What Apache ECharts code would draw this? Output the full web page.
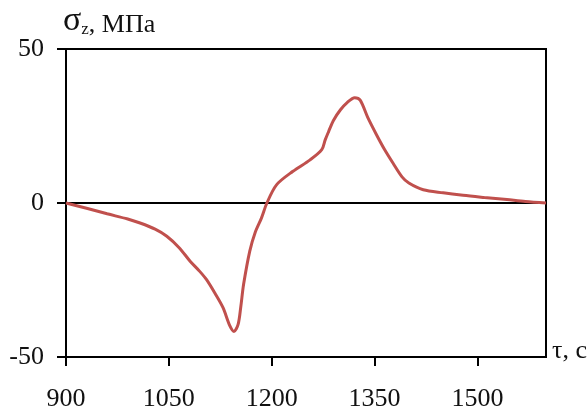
<!DOCTYPE html>
<html><head><meta charset="utf-8">
<script src="https://cdn.jsdelivr.net/npm/echarts@6/dist/echarts.min.js"></script>
<style>html,body{margin:0;padding:0;background:#fff}#c{width:588px;height:412px}</style>
</head><body><div id="c"></div>
<script>
const timeValues = [900,930,960,990,1008,1030,1047,1065,1081,1095,1105,1118,1129,1139,1145,1151,1155,1159,1168,1176,1185,1193,1207,1231,1256,1273,1278,1283,1290,1300,1310,1321,1329,1340,1353,1365,1377,1390,1400,1421,1450,1479,1510,1543,1570,1600];
const stressValues = [0,-1.7,-3.5,-5.2,-6.5,-8.5,-10.8,-14.5,-18.9,-22.2,-24.9,-29.6,-34,-39.9,-41.7,-39.4,-33.5,-26.4,-15.6,-9.5,-4.9,0,5.9,10.3,14,17.3,20.5,23.2,26.8,30.2,32.6,34.2,33.4,27.8,22.1,17.2,12.9,8.5,6.5,4.3,3.3,2.5,1.8,1.1,0.5,0];
const xTicks = [900,1050,1200,1350,1500];
const yTicks = [-50,0,50];
const yTitle = 'σ';
const yTitleSub = 'z';
const yTitleRest = ', МПа';
const xTitle = 'τ, с';

const chart = echarts.init(document.getElementById('c'), null, {renderer:'canvas'});
const font = '"Liberation Serif", "Times New Roman", serif';
chart.setOption({
  animation:false,
  backgroundColor:'#fff',
  grid:{left:66,right:42,top:49,bottom:53,show:true,borderColor:'#000',borderWidth:2},
  xAxis:{type:'value',min:900,max:1600,interval:150,
    axisLine:{show:true,onZero:false,lineStyle:{color:'#000',width:2}},
    axisTick:{show:true,length:9,lineStyle:{color:'#000',width:2},customValues:xTicks},
    axisLabel:{margin:29,fontFamily:font,fontSize:26,color:'#111',customValues:xTicks,formatter:v=>String(v)},
    splitLine:{show:false}},
  yAxis:{type:'value',min:-50,max:50,interval:50,
    axisLine:{show:true,onZero:false,lineStyle:{color:'#000',width:2}},
    axisTick:{show:true,length:9,lineStyle:{color:'#000',width:2},customValues:yTicks},
    axisLabel:{margin:22,fontFamily:font,fontSize:26,color:'#111',customValues:yTicks,formatter:v=>String(v)},
    splitLine:{show:true,lineStyle:{color:'#000',width:2}}},
  graphic:[
    {type:'text',left:63,top:4,style:{
      text:'{g|'+yTitle+'}{sub|'+yTitleSub+'}{s|'+yTitleRest+'}',
      rich:{g:{fontFamily:font,fontSize:34,fill:'#111',verticalAlign:'bottom'},
            s:{fontFamily:font,fontSize:26,fill:'#111',verticalAlign:'bottom'},
            sub:{fontFamily:font,fontSize:17,fill:'#111',padding:[12,0,0,0],verticalAlign:'bottom'}}}},
    {type:'text',left:552,top:338,style:{text:xTitle,fontFamily:font,fontSize:26,fill:'#111'}}
  ],
  series:[{type:'line',data:timeValues.map((t,i)=>[t,stressValues[i]]),
    showSymbol:false,smooth:0.3,lineStyle:{color:'#c0504d',width:3},z:5}]
});
</script></body></html>
